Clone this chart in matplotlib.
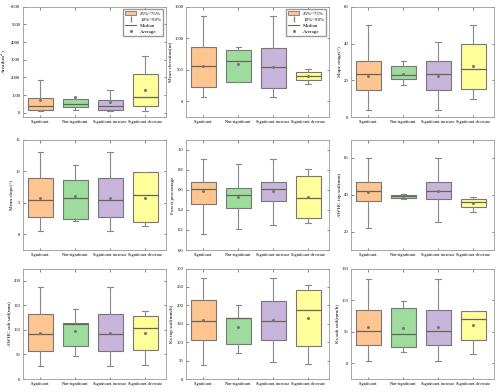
import matplotlib
matplotlib.use("Agg")
import matplotlib.pyplot as plt
from matplotlib.patches import Patch
from matplotlib.lines import Line2D

plt.rcParams['font.family'] = ['Liberation Serif', 'DejaVu Serif']

groups = ['Significant', 'Non-significant', 'Significant increase', 'Significant decrease']
colors = ['#FFC590', '#9EDC9E', '#C7B5DB', '#FFFF99']

# per panel: whislo, q1, med, q3, whishi, mean  (one row per group)
area = [[75, 170, 365, 850, 1830, 710],
        [135, 310, 500, 770, 770, 885],
        [75, 170, 365, 710, 1270, 615],
        [115, 400, 920, 2190, 3210, 1290]]
elev = [[70, 225, 560, 860, 1350, 560],
        [300, 310, 635, 810, 860, 585],
        [70, 215, 545, 850, 1350, 540],
        [270, 335, 410, 470, 520, 410]]
slope_rng = [[3.9, 14.9, 23.2, 30.7, 50, 22.6],
             [17.4, 20.5, 22.8, 28, 30.5, 23.7],
             [3.9, 14.9, 23.2, 30.7, 40.7, 22.6],
             [9.8, 15.4, 26, 40, 50, 27.7]]
slope_mean = [[0.6, 2.7, 5.5, 8.9, 13.1, 5.7],
              [2.05, 2.5, 5.8, 8.6, 11.0, 6.0],
              [0.6, 2.7, 5.5, 8.9, 13.1, 5.7],
              [1.3, 1.95, 6.15, 9.85, 9.9, 5.8]]
forest = [[0.16, 0.463, 0.606, 0.673, 0.91, 0.584],
          [0.206, 0.42, 0.55, 0.613, 0.86, 0.53],
          [0.25, 0.486, 0.606, 0.673, 0.91, 0.587],
          [0.267, 0.32, 0.52, 0.733, 0.803, 0.527]]
awhc_top = [[21.9, 36.9, 42, 47.1, 60, 41.7],
            [38, 38.1, 39.1, 39.8, 40.5, 39.5],
            [25, 37.9, 42, 47.1, 60, 42],
            [30.9, 33.4, 36.3, 37.9, 38.9, 35.5]]
awhc_sub = [[26.9, 56.4, 92.5, 133, 187.5, 94.4],
            [47.2, 68.2, 112, 113.4, 143, 97],
            [26.9, 56.4, 92.5, 133, 187.5, 94.4],
            [29.5, 59.7, 104.3, 127.9, 138.4, 94.4]]
ks_top = [[39.5, 107, 157, 214, 275, 160],
          [70, 96.5, 166, 166.7, 200, 140],
          [47, 107, 157, 212, 275, 159],
          [40, 91, 187, 241, 255, 166]]
ks_sub = [[3, 29.7, 51.7, 85, 133.6, 57.9],
          [18.4, 25.6, 46.6, 87.6, 98.8, 55.3],
          [3, 29.7, 51.2, 85, 133.6, 57.9],
          [15.4, 37.4, 70.7, 82, 83.5, 60]]

panels = [
    (area, 'Area(km$^2$)', (-250, 6000), [0, 1000, 2000, 3000, 4000, 5000, 6000], '%d', True),
    (elev, 'Mean elevation(m)', (-250, 1500), [0, 500, 1000, 1500], '%d', True),
    (slope_rng, 'Slope range(°)', (0, 60), [0, 20, 40, 60], '%d', False),
    (slope_mean, 'Mean slope(°)', (-2.5, 15), [0, 5, 10, 15], '%d', False),
    (forest, 'Forest percentage', (0, 1.1), [0, 0.2, 0.4, 0.6, 0.8, 1.0], '%.1f', False),
    (awhc_top, 'AWHC top soil(mm)', (10, 70), [20, 40, 60], '%d', False),
    (awhc_sub, 'AWHC sub soil(mm)', (0, 225), [0, 50, 100, 150, 200], '%d', False),
    (ks_top, 'Ks top soil(mm/h)', (0, 300), [0, 50, 100, 150, 200, 250, 300], '%d', False),
    (ks_sub, 'Ks sub soil(mm/h)', (-25, 150), [0, 50, 100, 150], '%d', False),
]

fig = plt.figure(figsize=(5, 3.92), dpi=100)
lefts = [0.046, 0.372, 0.702]
bottoms = [0.701, 0.362, 0.033]
w, h = 0.286, 0.282

for k, (data, ylab, ylim, yt, fmt, leg) in enumerate(panels):
    ax = fig.add_axes([lefts[k % 3], bottoms[k // 3], w, h])
    stats = []
    for g, row in zip(groups, data):
        stats.append(dict(whislo=row[0], q1=row[1], med=row[2], q3=row[3],
                          whishi=row[4], mean=row[5], label=g, fliers=[]))
    bp = ax.bxp(stats, positions=[1, 2, 3, 4], widths=0.72, patch_artist=True,
                showmeans=True, showfliers=False,
                boxprops=dict(edgecolor='#777777', linewidth=0.8),
                whiskerprops=dict(color='#888888', linewidth=0.8),
                capprops=dict(color='#888888', linewidth=0.8),
                medianprops=dict(color='#666655', linewidth=0.9),
                meanprops=dict(marker='o', markersize=1.2, markerfacecolor='#777777',
                               markeredgecolor='#777777'))
    for patch, c in zip(bp['boxes'], colors):
        patch.set_facecolor(c)
    for cap in bp['caps']:
        cap.set_xdata([cap.get_xdata()[0] + 0.1, cap.get_xdata()[1] - 0.1])
    ax.set_xlim(0.5, 4.6)
    ax.set_ylim(*ylim)
    ax.set_yticks(yt)
    ax.set_yticklabels([fmt % v for v in yt], fontsize=3.3)
    ax.set_ylabel(ylab, fontsize=3.8, labelpad=1.5)
    ax.set_xticks([1, 2, 3, 4])
    ax.set_xticklabels(groups, fontsize=3.1)
    ax.tick_params(axis='both', length=1.8, width=0.5, direction='in',
                   top=True, right=True, pad=2, colors='#555555', labelcolor='black')
    for sp in ax.spines.values():
        sp.set_color('#999999')
        sp.set_linewidth(0.6)
    if leg:
        handles = [Patch(facecolor=colors[0], edgecolor='#777777', linewidth=0.6),
                   Line2D([], [], color='#888888', marker='|', markersize=4, linewidth=0),
                   Line2D([], [], color='#666655', linewidth=0.8),
                   Line2D([], [], color='#777777', marker='o', markersize=1.2, linewidth=0)]
        ax.legend(handles, ['25%~75%', '10%~90%', 'Median', 'Average'], loc='upper right',
                  fontsize=3.6, frameon=True, fancybox=False, edgecolor='#999999',
                  handlelength=2.2, handleheight=0.8, borderpad=0.4, labelspacing=0.25,
                  framealpha=1)

fig.savefig('out.png', dpi=100)
